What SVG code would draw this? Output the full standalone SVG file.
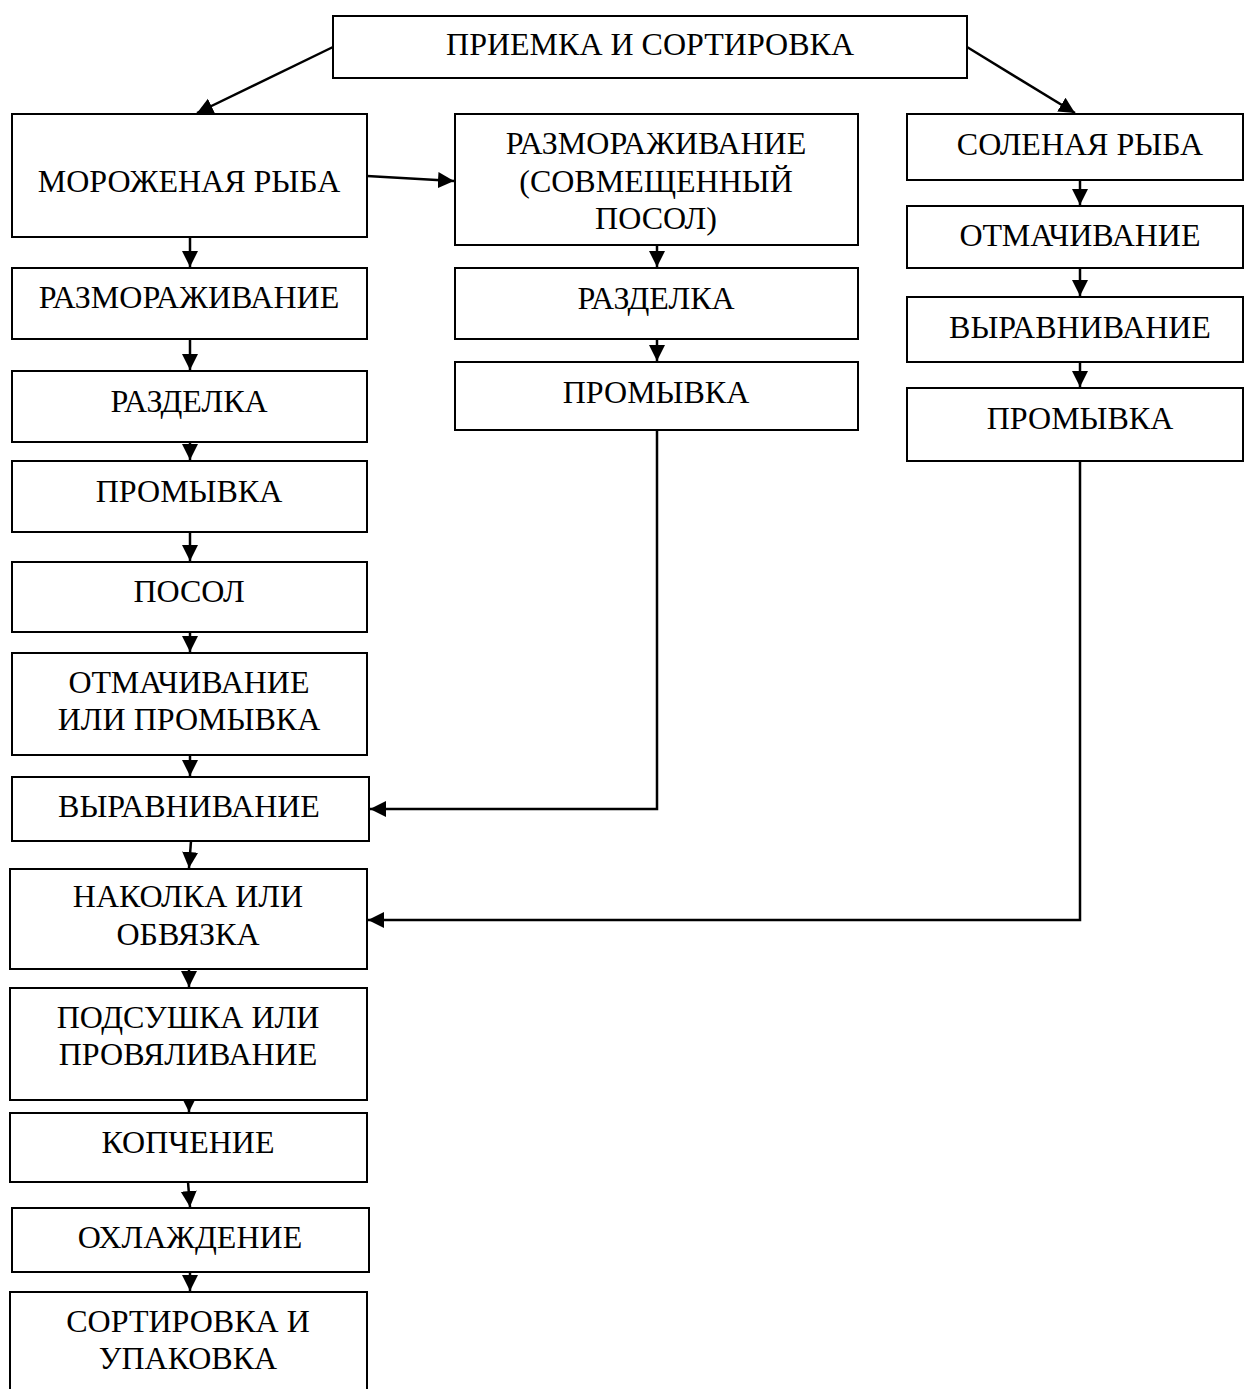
<svg xmlns="http://www.w3.org/2000/svg" width="1245" height="1389" viewBox="0 0 1245 1389">
<style>
.b{fill:#fff;stroke:#000;stroke-width:2}
.t{font-family:"Liberation Serif","Times New Roman",serif;font-size:32px;fill:#000;text-anchor:middle}
.c{fill:none;stroke:#000;stroke-width:2.5}
</style>
<defs>
<marker id="ah" markerUnits="userSpaceOnUse" markerWidth="18" markerHeight="18" viewBox="0 0 18 18" refX="16" refY="9" orient="auto">
<path d="M0,1 L16,9 L0,17 Z" fill="#000"/>
</marker>
</defs>
<rect width="1245" height="1389" fill="#fff"/>
<g id="connectors">
<line class="c" x1="333" y1="47" x2="197" y2="113" marker-end="url(#ah)"/>
<line class="c" x1="967" y1="47" x2="1075" y2="113" marker-end="url(#ah)"/>
<line class="c" x1="367" y1="176" x2="454" y2="181" marker-end="url(#ah)"/>
<line class="c" x1="190" y1="237" x2="190" y2="267" marker-end="url(#ah)"/>
<line class="c" x1="190" y1="339" x2="190" y2="370" marker-end="url(#ah)"/>
<line class="c" x1="190" y1="442" x2="190" y2="460" marker-end="url(#ah)"/>
<line class="c" x1="190" y1="532" x2="190" y2="561" marker-end="url(#ah)"/>
<line class="c" x1="190" y1="632" x2="190" y2="652" marker-end="url(#ah)"/>
<line class="c" x1="190" y1="755" x2="190" y2="776" marker-end="url(#ah)"/>
<line class="c" x1="191" y1="841" x2="189" y2="868" marker-end="url(#ah)"/>
<line class="c" x1="189" y1="969" x2="189" y2="987" marker-end="url(#ah)"/>
<line class="c" x1="189" y1="1100" x2="189" y2="1112" marker-end="url(#ah)"/>
<line class="c" x1="188" y1="1182" x2="190" y2="1207" marker-end="url(#ah)"/>
<line class="c" x1="190" y1="1272" x2="190" y2="1291" marker-end="url(#ah)"/>
<line class="c" x1="657" y1="245" x2="657" y2="267" marker-end="url(#ah)"/>
<line class="c" x1="657" y1="339" x2="657" y2="361" marker-end="url(#ah)"/>
<line class="c" x1="1080" y1="180" x2="1080" y2="205" marker-end="url(#ah)"/>
<line class="c" x1="1080" y1="268" x2="1080" y2="296" marker-end="url(#ah)"/>
<line class="c" x1="1080" y1="362" x2="1080" y2="387" marker-end="url(#ah)"/>
<polyline class="c" points="657,430 657,809 370,809" marker-end="url(#ah)"/>
<polyline class="c" points="1080,461 1080,920 368,920" marker-end="url(#ah)"/>
</g>
<g id="n-priemka"><rect class="b" x="333" y="16" width="634" height="62"/><text class="t" x="650" y="55">ПРИЕМКА И СОРТИРОВКА</text></g>
<g id="n-moroz"><rect class="b" x="12" y="114" width="355" height="123"/><text class="t" x="189" y="192">МОРОЖЕНАЯ РЫБА</text></g>
<g id="n-razmor1"><rect class="b" x="12" y="268" width="355" height="71"/><text class="t" x="189" y="308">РАЗМОРАЖИВАНИЕ</text></g>
<g id="n-razdelka1"><rect class="b" x="12" y="371" width="355" height="71"/><text class="t" x="189" y="412">РАЗДЕЛКА</text></g>
<g id="n-promyvka1"><rect class="b" x="12" y="461" width="355" height="71"/><text class="t" x="189" y="502">ПРОМЫВКА</text></g>
<g id="n-posol"><rect class="b" x="12" y="562" width="355" height="70"/><text class="t" x="189" y="602">ПОСОЛ</text></g>
<g id="n-otmach1"><rect class="b" x="12" y="653" width="355" height="102"/><text class="t" x="189" y="693">ОТМАЧИВАНИЕ</text><text class="t" x="189" y="730">ИЛИ ПРОМЫВКА</text></g>
<g id="n-vyravn1"><rect class="b" x="12" y="777" width="357" height="64"/><text class="t" x="189" y="817">ВЫРАВНИВАНИЕ</text></g>
<g id="n-nakolka"><rect class="b" x="10" y="869" width="357" height="100"/><text class="t" x="188" y="907">НАКОЛКА ИЛИ</text><text class="t" x="188" y="945">ОБВЯЗКА</text></g>
<g id="n-podsushka"><rect class="b" x="10" y="988" width="357" height="112"/><text class="t" x="188" y="1028">ПОДСУШКА ИЛИ</text><text class="t" x="188" y="1065">ПРОВЯЛИВАНИЕ</text></g>
<g id="n-kopchenie"><rect class="b" x="10" y="1113" width="357" height="69"/><text class="t" x="188" y="1153">КОПЧЕНИЕ</text></g>
<g id="n-ohlazhd"><rect class="b" x="12" y="1208" width="357" height="64"/><text class="t" x="190" y="1248">ОХЛАЖДЕНИЕ</text></g>
<g id="n-sort"><rect class="b" x="10" y="1292" width="357" height="110"/><text class="t" x="188" y="1332">СОРТИРОВКА И</text><text class="t" x="188" y="1369">УПАКОВКА</text></g>
<g id="n-razmor2"><rect class="b" x="455" y="114" width="403" height="131"/><text class="t" x="656" y="154">РАЗМОРАЖИВАНИЕ</text><text class="t" x="656" y="192">(СОВМЕЩЕННЫЙ</text><text class="t" x="656" y="229">ПОСОЛ)</text></g>
<g id="n-razdelka2"><rect class="b" x="455" y="268" width="403" height="71"/><text class="t" x="656" y="309">РАЗДЕЛКА</text></g>
<g id="n-promyvka2"><rect class="b" x="455" y="362" width="403" height="68"/><text class="t" x="656" y="403">ПРОМЫВКА</text></g>
<g id="n-solenaya"><rect class="b" x="907" y="114" width="336" height="66"/><text class="t" x="1080" y="155">СОЛЕНАЯ РЫБА</text></g>
<g id="n-otmach2"><rect class="b" x="907" y="206" width="336" height="62"/><text class="t" x="1080" y="246">ОТМАЧИВАНИЕ</text></g>
<g id="n-vyravn2"><rect class="b" x="907" y="297" width="336" height="65"/><text class="t" x="1080" y="338">ВЫРАВНИВАНИЕ</text></g>
<g id="n-promyvka3"><rect class="b" x="907" y="388" width="336" height="73"/><text class="t" x="1080" y="429">ПРОМЫВКА</text></g>
</svg>
